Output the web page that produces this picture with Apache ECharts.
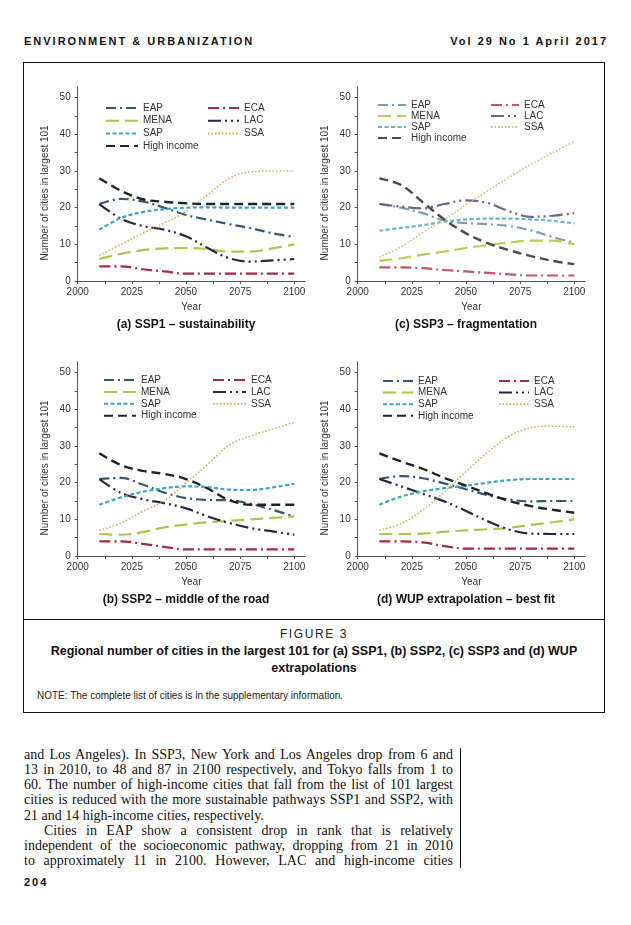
<!DOCTYPE html>
<html><head><meta charset="utf-8">
<script src="https://cdn.jsdelivr.net/npm/echarts@6.0.0/dist/echarts.min.js"></script>
<style>
html,body{margin:0;padding:0;background:#fff;}
#page{position:relative;width:631px;height:925px;background:#fff;overflow:hidden;}
.abs{position:absolute;white-space:nowrap;}
.hdr{font-family:"Liberation Sans",Arial,sans-serif;font-weight:bold;font-size:11px;letter-spacing:2px;color:#111;top:35px;line-height:13px;}
#box{position:absolute;left:23px;top:62px;width:580px;height:649px;border:1px solid #111;}
#divider{position:absolute;left:23px;top:619px;width:582px;height:1px;background:#111;}
#fig{left:23px;width:582px;top:627px;text-align:center;font-family:"Liberation Sans",Arial,sans-serif;font-size:12px;letter-spacing:1.6px;color:#222;line-height:14px;}
#cap{left:23px;width:582px;top:643px;text-align:center;font-family:"Liberation Sans",Arial,sans-serif;font-weight:bold;font-size:12.5px;color:#111;line-height:17px;white-space:normal;}
#note{left:37px;top:690px;font-family:"Liberation Sans",Arial,sans-serif;font-size:10px;color:#222;line-height:12px;}
#body{position:absolute;left:24px;top:747px;width:429px;font-family:"Liberation Serif","Times New Roman",serif;font-size:14px;line-height:15.15px;color:#111;}
#body div{text-align:justify;text-align-last:justify;}
#body div.last{text-align-last:left;}
#body div.ind{text-indent:20px;}
#rule{position:absolute;left:460px;top:748px;width:1px;height:120px;background:#111;}
#pg{left:24px;top:876px;font-family:"Liberation Sans",Arial,sans-serif;font-weight:bold;font-size:11px;letter-spacing:2px;color:#111;}
#chart{position:absolute;left:0;top:0;width:631px;height:925px;}
</style>
</head><body>
<div id="page">
  <div class="abs hdr" style="left:24px;">ENVIRONMENT &amp; URBANIZATION</div>
  <div class="abs hdr" style="right:23px;">Vol 29 No 1 April 2017</div>
  <div id="box"></div>
  <div id="divider"></div>
  <div class="abs" id="fig">FIGURE 3</div>
  <div class="abs" id="cap">Regional number of cities in the largest 101 for (a) SSP1, (b) SSP2, (c) SSP3 and (d) WUP<br>extrapolations</div>
  <div class="abs" id="note">NOTE: The complete list of cities is in the supplementary information.</div>
  <div id="body">
    <div>and Los Angeles). In SSP3, New York and Los Angeles drop from 6 and</div>
    <div>13 in 2010, to 48 and 87 in 2100 respectively, and Tokyo falls from 1 to</div>
    <div>60. The number of high-income cities that fall from the list of 101 largest</div>
    <div>cities is reduced with the more sustainable pathways SSP1 and SSP2, with</div>
    <div class="last">21 and 14 high-income cities, respectively.</div>
    <div class="ind">Cities in EAP show a consistent drop in rank that is relatively</div>
    <div>independent of the socioeconomic pathway, dropping from 21 in 2010</div>
    <div>to approximately 11 in 2100. However, LAC and high-income cities</div>
  </div>
  <div id="rule"></div>
  <div class="abs" id="pg">204</div>
  <div id="chart"></div>
</div>
<script>
// ---------- data ----------
const years = [2010, 2020, 2030, 2040, 2050, 2060, 2070, 2080, 2090, 2100];
const xTickLabels = [2000, 2025, 2050, 2075, 2100];
const yTickLabels = [0, 10, 20, 30, 40, 50];
const regions = ['EAP', 'ECA', 'MENA', 'LAC', 'SAP', 'SSA', 'High income'];

// (a) SSP1 - sustainability
const a_EAP  = [21, 22.4, 21.7, 20, 18, 16.7, 15.5, 14.4, 13, 12];
const a_ECA  = [4, 4, 3.2, 2.6, 2, 2, 2, 2, 2, 2];
const a_MENA = [6, 7.4, 8.4, 8.9, 9, 8.7, 8, 8, 8.9, 10];
const a_LAC  = [21, 17, 15, 14, 12.2, 9, 6.2, 5.3, 5.6, 6];
const a_SAP  = [14, 17.2, 18.8, 19.6, 20, 20.1, 20, 20, 20, 20];
const a_SSA  = [7, 10, 13, 15.8, 19, 23.5, 28, 29.8, 30, 30];
const a_HI   = [28, 24.6, 22.3, 21.6, 21.2, 21, 21, 21, 21, 21];

// (b) SSP2 - middle of the road
const b_EAP  = [21, 21.3, 19.5, 17.3, 15.8, 15.3, 15.2, 14.2, 12.6, 10.8];
const b_ECA  = [4, 4, 3.3, 2.5, 1.8, 1.8, 1.8, 1.8, 1.8, 1.8];
const b_MENA = [6, 5.8, 6.5, 7.8, 8.6, 9.2, 9.6, 10, 10.4, 10.8];
const b_LAC  = [21, 17.2, 15.5, 14.4, 13, 10.8, 9, 7.6, 6.7, 5.8];
const b_SAP  = [14, 16, 17.5, 18.5, 19, 18.8, 18.1, 18, 18.7, 19.7];
const b_SSA  = [7, 9, 12.2, 15, 19.9, 25, 30.3, 32.8, 34.6, 36.5];
const b_HI   = [28, 24.8, 23.2, 22.4, 21, 18.4, 15.2, 14, 14, 14];

// (c) SSP3 - fragmentation
const c_EAP  = [21, 20, 18.5, 16.5, 15.8, 15.5, 15, 13.8, 12, 10.5];
const c_ECA  = [3.7, 3.7, 3.5, 3, 2.6, 2.2, 1.8, 1.5, 1.5, 1.5];
const c_MENA = [5.5, 6.2, 7.2, 8, 9, 9.8, 10.5, 11, 11, 10];
const c_LAC  = [21, 20.3, 19.8, 21, 22, 21.3, 19, 17.5, 17.8, 18.5];
const c_SAP  = [13.7, 14.5, 15.2, 16.2, 16.8, 17, 17, 16.8, 16.4, 15.7];
const c_SSA  = [6.5, 9.3, 13.2, 16.8, 20.8, 24.6, 28.3, 31.8, 35, 38];
const c_HI   = [28, 26.2, 21.5, 16.8, 13, 10.3, 8.4, 6.8, 5.5, 4.6];

// (d) WUP extrapolation - best fit
const d_EAP  = [21, 21.8, 21.2, 19.8, 18.2, 16.6, 15.4, 14.9, 15, 15];
const d_ECA  = [4, 4, 3.7, 2.7, 2, 2, 2, 2, 2, 2];
const d_MENA = [6, 6, 6.1, 6.6, 7, 7.3, 7.7, 8.5, 9.2, 10];
const d_LAC  = [21, 19, 17, 14.9, 12.3, 9.5, 7.2, 6.1, 6, 6];
const d_SAP  = [14, 16.2, 17.6, 18.5, 19.2, 20, 20.7, 21, 21, 21];
const d_SSA  = [7, 8.8, 12.5, 17.5, 23, 28.3, 32.7, 35, 35.4, 35.2];
const d_HI   = [28, 25.8, 23.8, 21.3, 19.2, 17, 15, 13.6, 12.6, 11.8];

const panelTitles = ['(a) SSP1 \u2013 sustainability', '(b) SSP2 \u2013 middle of the road',
                     '(c) SSP3 \u2013 fragmentation', '(d) WUP extrapolation \u2013 best fit'];

// ---------- styles ----------
const panelData = {
  a: {EAP: a_EAP, ECA: a_ECA, MENA: a_MENA, LAC: a_LAC, SAP: a_SAP, SSA: a_SSA, 'High income': a_HI},
  b: {EAP: b_EAP, ECA: b_ECA, MENA: b_MENA, LAC: b_LAC, SAP: b_SAP, SSA: b_SSA, 'High income': b_HI},
  c: {EAP: c_EAP, ECA: c_ECA, MENA: c_MENA, LAC: c_LAC, SAP: c_SAP, SSA: c_SSA, 'High income': c_HI},
  d: {EAP: d_EAP, ECA: d_ECA, MENA: d_MENA, LAC: d_LAC, SAP: d_SAP, SSA: d_SSA, 'High income': d_HI}
};
const darkPal  = {EAP:'#34566f', ECA:'#a8283f', MENA:'#b3c24f', LAC:'#2c2540', SAP:'#3aa5c4', SSA:'#e2a84e', 'High income':'#222222'};
const lightPal = {EAP:'#7f9db2', ECA:'#c4566b', MENA:'#bccd55', LAC:'#6f6485', SAP:'#63b6cc', SSA:'#e6b866', 'High income':'#4b4b4b'};
const dash = {EAP:[10,4,2,4], ECA:[11,4,2,4], MENA:[13,6], LAC:[13,4,2,4,2,4], SAP:[4,2.5], SSA:[1.5,2], 'High income':[9,5]};
const widths = {EAP:2.2, ECA:2.2, MENA:2.2, LAC:2.2, SAP:2.2, SSA:1.5, 'High income':2.4};

const FONT = '"Liberation Sans", Arial, sans-serif';
const panels = [
  {key:'a', left:77.7, top:86.7, title:panelTitles[0], pal:darkPal,
   legL:{left:105, top:103, w:32, gap:2.7}, legR:{left:207, w:31}},
  {key:'b', left:77.7, top:361.7, title:panelTitles[1], pal:darkPal,
   legL:{left:103, top:375, w:32, gap:1.9}, legR:{left:212, w:33}},
  {key:'c', left:357.7, top:86.7, title:panelTitles[2], pal:lightPal,
   legL:{left:377, top:100, w:28, gap:1}, legR:{left:490, w:28}},
  {key:'d', left:357.7, top:361.7, title:panelTitles[3], pal:darkPal,
   legL:{left:382, top:376, w:30, gap:1.6}, legR:{left:498, w:30}}
];
const GW = 227.4, GH = 194.3;

const grid = [], xAxis = [], yAxis = [], series = [], legend = [], title = [];
const xTickVals = [], yTickVals = [];
for (let v = 2000; v <= 2100; v += 12.5) xTickVals.push(v);
for (let v = 0; v <= 50; v += 5) yTickVals.push(v);

panels.forEach((p, i) => {
  grid.push({left: p.left, top: p.top, width: GW, height: GH, containLabel: false});
  xAxis.push({
    type: 'value', gridIndex: i, min: 2000, max: 2105,
    axisLine: {show: true, lineStyle: {color: '#555', width: 1}},
    axisTick: {show: true, customValues: xTickVals, length: 3, lineStyle: {color: '#555'}},
    axisLabel: {customValues: xTickLabels, formatter: v => String(v), fontSize: 10, color: '#333', margin: 6, fontFamily: FONT},
    splitLine: {show: false},
    name: 'Year', nameLocation: 'middle', nameGap: 21,
    nameTextStyle: {fontSize: 10, color: '#333', fontFamily: FONT}
  });
  yAxis.push({
    type: 'value', gridIndex: i, min: 0, max: 53,
    axisLine: {show: true, lineStyle: {color: '#555', width: 1}},
    axisTick: {show: true, customValues: yTickVals, length: 3, lineStyle: {color: '#555'}},
    axisLabel: {customValues: yTickLabels, formatter: v => String(v), fontSize: 10, color: '#333', margin: 7, fontFamily: FONT},
    splitLine: {show: false},
    name: 'Number of cities in largest 101', nameLocation: 'middle', nameGap: 27, nameRotate: 90,
    nameTextStyle: {fontSize: 10, color: '#333', fontFamily: FONT, padding: [0, 18, 0, 0]}
  });
  title.push({
    text: p.title, left: p.left + 108.3, top: p.top + 231.5, textAlign: 'center', padding: 0,
    textStyle: {fontSize: 12, fontWeight: 'bold', color: '#111', fontFamily: FONT}
  });
  regions.forEach(r => {
    const vals = panelData[p.key][r];
    series.push({
      name: p.key + '|' + r, type: 'line', xAxisIndex: i, yAxisIndex: i,
      data: years.map((y, k) => [y, vals[k]]),
      symbol: 'none', smooth: 0.35, silent: true, animation: false,
      itemStyle: {color: p.pal[r]},
      lineStyle: {color: p.pal[r], width: widths[r], type: dash[r], cap: 'butt'}
    });
  });
  const common = {
    orient: 'vertical', padding: 0, itemHeight: 10, itemGap: p.legL.gap,
    selectedMode: false, formatter: n => n.split('|')[1],
    itemStyle: {opacity: 0},
    textStyle: {fontSize: 10, color: '#333', fontFamily: FONT, lineHeight: 10}
  };
  legend.push(Object.assign({}, common, {
    left: p.legL.left, top: p.legL.top, itemWidth: p.legL.w,
    data: ['EAP', 'MENA', 'SAP', 'High income'].map(r => p.key + '|' + r)
  }));
  legend.push(Object.assign({}, common, {
    left: p.legR.left, top: p.legL.top, itemWidth: p.legR.w,
    data: ['ECA', 'LAC', 'SSA'].map(r => p.key + '|' + r)
  }));
});

const chart = echarts.init(document.getElementById('chart'), null, {renderer: 'canvas'});
chart.setOption({
  backgroundColor: 'transparent', animation: false,
  grid, xAxis, yAxis, series, legend, title
});
</script>
</body></html>
